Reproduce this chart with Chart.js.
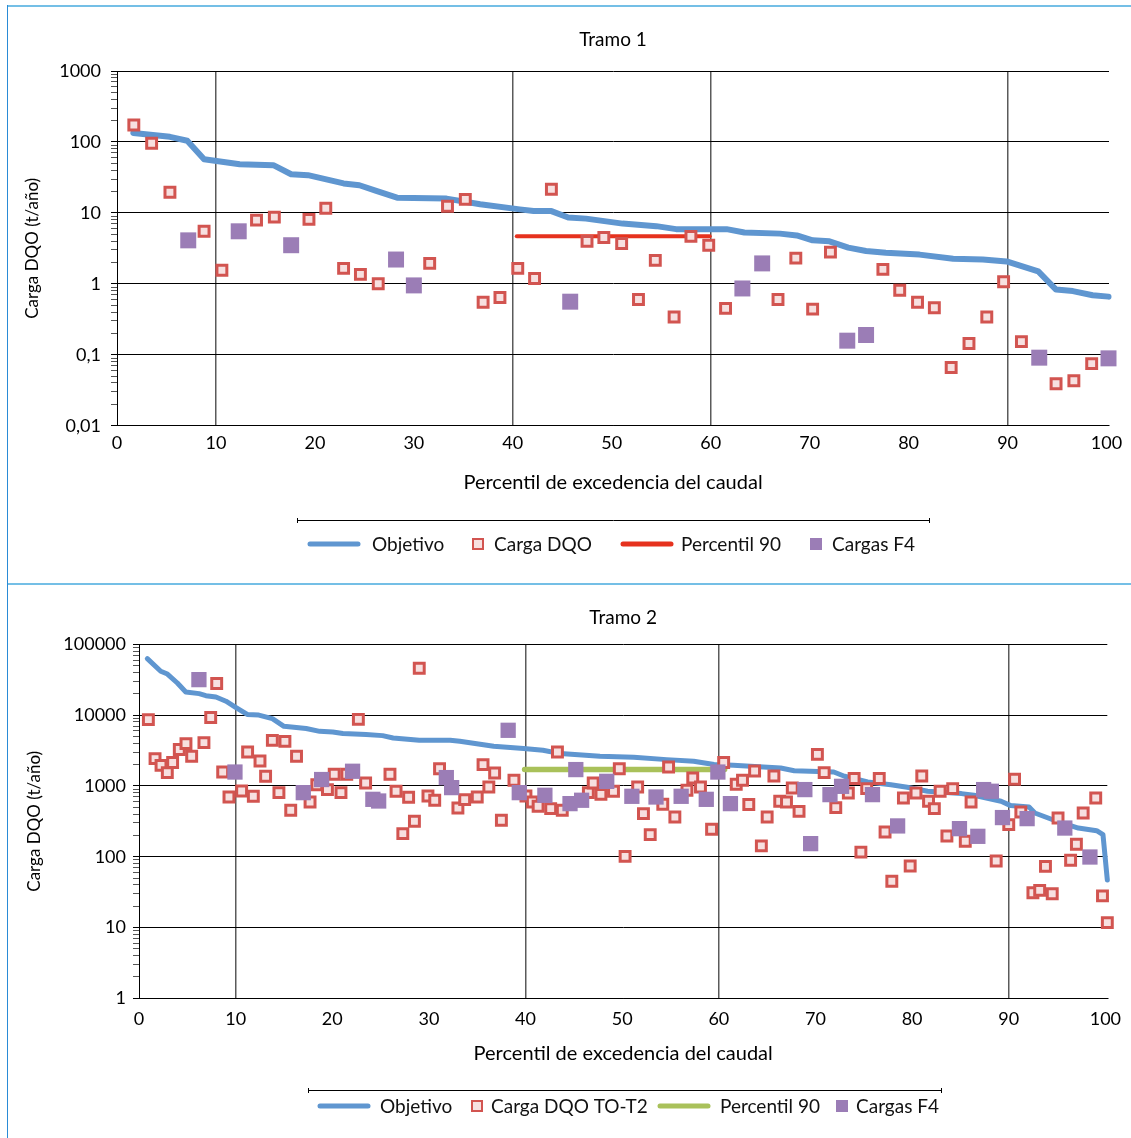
<!DOCTYPE html>
<html><head><meta charset="utf-8">
<script src="https://cdn.jsdelivr.net/npm/chart.js@4.4.1/dist/chart.umd.min.js"></script>
<style>
html,body{margin:0;padding:0;background:#fff;}
body{width:1131px;height:1138px;position:relative;overflow:hidden;}
canvas{position:absolute;left:0;}
#c1{top:0;width:1131px;height:584px;}
#c2{top:584px;width:1131px;height:554px;}
.fr{position:absolute;z-index:2;}
</style></head><body>
<canvas id="c1" width="1131" height="584"></canvas>
<canvas id="c2" width="1131" height="554"></canvas>
<div class="fr" style="left:7px;top:5px;width:1124px;height:2px;background:#74bfe6"></div>
<div class="fr" style="left:7px;top:583px;width:1124px;height:2px;background:#74bfe6"></div>
<div class="fr" style="left:7px;top:5px;width:1px;height:1133px;background:#2a8bd6"></div>
<script>
// ---------- Tramo 1 data ----------
const xTicks = [0,10,20,30,40,50,60,70,80,90,100];
const vGridAt = [10,40,60,90];
const yTickVals1 = [0.01,0.1,1,10,100,1000];
const yTickLabels1 = ['0,01','0,1','1','10','100','1000'];
const obj1X = [1.65,5.35,7.1,8.8,12.4,15.8,17.6,19.3,22.9,24.5,26.2,28.3,33.3,36.7,40.7,42.1,43.9,45.6,47.4,51.1,54.5,56.5,61.6,63.4,67,68.7,70.3,72,73.9,75.7,77.7,81.1,84.5,87.5,89.9,91.5,93.1,94.9,96.6,98.6,100.2];
const obj1Y = [134,118,104,57,48.5,47,35,34,26,24.5,20.4,16.4,15.9,13.2,11.2,10.6,10.6,8.6,8.3,7.06,6.5,5.9,5.9,5.3,5.1,4.8,4.1,3.97,3.24,2.9,2.75,2.58,2.26,2.21,2.07,1.76,1.5,0.83,0.79,0.69,0.66];
const dqo1X = [1.7,3.5,5.35,8.8,10.6,14.1,15.9,19.4,21.1,22.9,24.6,26.4,31.6,33.4,35.2,37,38.7,40.5,42.2,43.9,47.5,49.2,51,52.7,54.4,56.3,58,59.8,61.5,66.8,68.6,70.3,72.1,77.4,79.1,80.9,82.6,84.3,86.1,87.9,89.6,91.4,94.9,96.7,98.5];
const dqo1Y = [173,96,19.5,5.5,1.55,7.9,8.7,8.1,11.6,1.65,1.36,1.0,1.94,12.4,15.5,0.55,0.64,1.65,1.19,21.5,3.97,4.5,3.7,0.6,2.14,0.34,4.67,3.5,0.45,0.6,2.3,0.44,2.8,1.6,0.81,0.55,0.46,0.066,0.144,0.34,1.07,0.153,0.039,0.043,0.075];
const p90_1X = [40.4,59.9];
const p90_1Y = [4.7,4.7];
const f4_1X = [7.2,12.3,17.6,28.2,30,45.8,63.2,65.2,73.8,75.7,93.2,100.2];
const f4_1Y = [4.1,5.5,3.5,2.2,0.95,0.56,0.86,1.94,0.158,0.19,0.091,0.089];
const legend1Labels = ['Objetivo','Carga DQO','Percentil 90','Cargas F4'];

// ---------- Tramo 2 data ----------
const yTickVals2 = [1,10,100,1000,10000,100000];
const yTickLabels2 = ['1','10','100','1000','10000','100000'];
const obj2X = [0.86,2.25,2.94,3.97,4.84,6.22,6.92,7.96,9.0,10.0,11.2,12.4,13.8,15.0,17.3,18.7,20.05,21.1,23.5,25.2,26.3,29.0,32.2,33.2,36.7,39.8,41.8,43.6,47.7,51.2,54.6,57.4,59.5,61.5,66.4,67.8,71.9,73.0,75.4,77.8,79.5,81.6,85.1,86.4,89.2,90.2,92.1,92.7,94.7,97.2,99.1,99.75,100.2];
const obj2Y = [62800,41600,38000,28400,21200,20100,18800,18000,15700,12900,10200,10000,8900,6950,6460,5900,5760,5480,5300,5130,4750,4400,4400,4270,3630,3370,3190,2860,2620,2540,2350,2230,2000,1950,1790,1640,1570,1370,1136,1040,955,839,778,737,606,527,503,414,327,254,233,205,47];
const dqo2X = [0.97,1.66,2.28,2.93,3.48,4.17,4.86,5.45,6.72,7.42,8.04,8.66,9.31,10.62,11.24,11.83,12.52,13.1,13.8,14.48,15.1,15.7,16.3,17.7,18.4,19.5,20.2,20.9,21.5,22.7,23.45,25.97,26.6,27.3,27.9,28.5,29.0,
  29.9,30.6,31.1,33.0,33.7,35.0,35.6,36.2,36.8,37.5,38.8,40.04,40.7,41.3,42.6,43.3,43.8,46.5,47.0,47.8,49.1,49.7,50.3,51.6,52.2,52.9,54.2,54.8,55.45,56.7,57.3,58.1,59.25,60.5,
  61.8,62.45,63.1,63.7,64.4,65.0,65.7,66.3,67.0,67.6,68.3,70.2,70.9,72.1,73.4,74.0,74.7,75.3,76.6,77.2,77.9,79.1,79.8,80.4,81.0,81.7,82.3,82.9,83.6,84.2,85.5,86.1,88.7,90.0,90.6,91.25,92.5,93.2,93.8,94.5,95.1,96.4,97.0,97.7,99.0,99.7,100.2];
const dqo2Y = [8630,2430,1950,1540,2140,3260,3960,2620,4080,9230,27900,1570,697,847,3010,713,2250,1370,4400,803,4260,452,2620,593,1040,885,1460,803,1460,8710,1100,1460,840,212,690,316,45800,
  719,627,1750,488,640,697,2000,966,1520,327,1200,719,593,515,478,3010,452,803,1100,758,840,1750,101,966,406,205,550,1850,364,868,1290,966,244,2140,
  1055,1200,545,1620,142,364,1380,606,593,933,437,2790,1540,494,795,1270,116,916,1270,223,45,675,74,795,1380,606,478,840,196,916,165,593,87,284,1240,428,31,33.5,73,30,352,89,150,414,675,28,11.7];
const p90_2X = [39.9,60.6];
const p90_2Y = [1710,1710];
const f4_2X = [6.2,9.93,17.0,18.9,22.1,24.2,24.8,31.8,32.35,38.2,39.35,42.0,44.6,45.2,45.8,48.4,51.0,53.5,56.1,58.7,59.9,61.2,68.9,69.5,71.5,72.7,75.9,78.5,84.9,86.8,87.4,88.2,89.35,91.9,95.8,98.4];
const f4_2Y = [31700,1570,803,1230,1610,646,612,1310,946,6100,803,737,562,1700,627,1160,713,697,713,646,1570,562,887,153,753,986,753,272,249,194,887,840,357,345,254,99];
const legend2Labels = ['Objetivo','Carga DQO TO-T2','Percentil 90','Cargas F4'];

// ---------- styles ----------
const FONT = 'Lato';
const C_BLUE = '#5f96d0', C_RED = '#d25450', C_PINK = '#f7e0e0', C_PURPLE = '#9b7db6', C_P90a = '#e6321e', C_P90b = '#a9c15a';
Chart.defaults.color = '#000';
Chart.defaults.font.family = FONT;

const pts = (xs, ys) => xs.map((x, i) => ({x: x, y: ys[i]}));
const isPow = v => Math.abs(Math.log10(v) - Math.round(Math.log10(v))) < 1e-9;
function logTicks(min, max) {
  const out = [];
  for (let e = Math.round(Math.log10(min)); e < Math.round(Math.log10(max)); e++)
    for (let k = 1; k < 10; k++) out.push(Number((k * Math.pow(10, e)).toPrecision(8)));
  out.push(max);
  return out;
}

const sepLegend = {
  id: 'sepLegend',
  afterDraw(chart, args, o) {
    const ctx = chart.ctx;
    ctx.save();
    ctx.strokeStyle = '#000'; ctx.lineWidth = 1;
    ctx.beginPath();
    ctx.moveTo(o.x0, o.ly + 0.5); ctx.lineTo(o.x1, o.ly + 0.5);
    ctx.moveTo(o.x0 + 0.5, o.ly - 2); ctx.lineTo(o.x0 + 0.5, o.ly + 3);
    ctx.moveTo(o.x1 - 0.5, o.ly - 2); ctx.lineTo(o.x1 - 0.5, o.ly + 3);
    ctx.stroke();
    ctx.font = o.fontSize + 'px ' + FONT;
    ctx.textBaseline = 'middle';
    ctx.textAlign = 'left';
    const y = o.iy;
    for (let i = 0; i < o.kinds.length; i++) {
      const k = o.kinds[i], sx = o.sx[i];
      if (k === 'line') {
        ctx.strokeStyle = o.colors[i]; ctx.lineWidth = 5; ctx.lineCap = 'round';
        ctx.beginPath(); ctx.moveTo(sx + 2, y); ctx.lineTo(sx + 50, y); ctx.stroke();
      } else if (k === 'hollow') {
        ctx.fillStyle = C_PINK; ctx.fillRect(sx, y - 6, 12, 12);
        ctx.strokeStyle = C_RED; ctx.lineWidth = 2; ctx.strokeRect(sx + 1, y - 5, 10, 10);
      } else {
        ctx.fillStyle = o.colors[i]; ctx.fillRect(sx, y - 6, 12, 12);
      }
      ctx.fillStyle = '#111';
      ctx.fillText(o.labels[i], o.tx[i], y + 1);
    }
    ctx.restore();
  }
};

function makeChart(id, cfg) {
  const ds = [
    {label: cfg.labels[0], data: pts(cfg.objX, cfg.objY), showLine: true, borderColor: C_BLUE, borderWidth: cfg.lw,
     pointRadius: 0, borderCapStyle: 'round', borderJoinStyle: 'round', tension: 0, order: 4, clip: false},
    {label: cfg.labels[2], data: pts(cfg.p90X, cfg.p90Y), showLine: true, borderColor: cfg.p90c, borderWidth: cfg.p90w,
     pointRadius: 0, borderCapStyle: 'round', order: 3, clip: false},
    {label: cfg.labels[1], data: pts(cfg.dqoX, cfg.dqoY), showLine: false, pointStyle: 'rect', pointRadius: 7, pointHoverRadius: 7,
     pointBorderWidth: 3, pointBorderColor: C_RED, pointBackgroundColor: C_PINK, order: 2, clip: false},
    {label: cfg.labels[3], data: pts(cfg.f4X, cfg.f4Y), showLine: false, pointStyle: 'rect', pointRadius: cfg.f4r, pointHoverRadius: cfg.f4r,
     pointBorderWidth: 0, pointBackgroundColor: C_PURPLE, order: 1, clip: false}
  ];
  return new Chart(document.getElementById(id), {
    type: 'scatter',
    data: {datasets: ds},
    plugins: [sepLegend],
    options: {
      responsive: false, animation: false, events: [],
      layout: {padding: {left: 0, right: cfg.padR, top: 0, bottom: cfg.padB}},
      plugins: {
        legend: {display: false}, tooltip: {enabled: false},
        title: {display: true, text: cfg.title, fullSize: false, color: '#000',
                font: {family: FONT, size: 19, weight: 'normal'}, padding: cfg.titlePad},
        sepLegend: cfg.legend
      },
      scales: {
        x: {
          type: 'linear', min: 0, max: cfg.xMax,
          afterBuildTicks: s => { s.ticks = xTicks.map(v => ({value: v})); },
          afterFit: s => { s.height = 80; },
          ticks: {autoSkip: false, maxRotation: 0, padding: cfg.xLabPad, font: {family: FONT, size: 18}, callback: v => String(v)},
          grid: {color: c => (c.tick && vGridAt.includes(c.tick.value)) ? '#5a5a5a' : 'rgba(0,0,0,0)', lineWidth: 1.5, drawTicks: false},
          border: {display: true, color: '#000', width: 1},
          title: {display: true, text: 'Percentil de excedencia del caudal', color: '#000',
                  font: {family: FONT, size: 20}, padding: {top: 0, bottom: cfg.xTitlePad}}
        },
        y: {
          type: 'logarithmic', min: cfg.yVals[0], max: cfg.yVals[cfg.yVals.length - 1],
          afterBuildTicks: s => { s.ticks = logTicks(cfg.yVals[0], cfg.yVals[cfg.yVals.length - 1]).map(v => ({value: v})); },
          afterFit: s => { s.width = cfg.yW; },
          ticks: {autoSkip: false, padding: cfg.yLabPad, font: {family: FONT, size: 18},
                  callback: v => { const i = cfg.yVals.findIndex(t => Math.abs(t - v) / t < 1e-6); return i >= 0 ? cfg.yLabels[i] : ''; }},
          grid: {color: c => (c.tick && isPow(c.tick.value)) ? '#000' : 'rgba(0,0,0,0)', lineWidth: 1,
                 drawTicks: true, tickLength: 6, tickColor: c => (c.tick && isPow(c.tick.value)) ? '#000' : '#555', tickWidth: 1},
          border: {display: true, color: '#000', width: 1},
          title: {display: true, text: 'Carga DQO (t/año)', color: '#000',
                  font: {family: FONT, size: 17}, padding: {top: cfg.yTitlePad, bottom: 0}}
        }
      }
    }
  });
}

function draw() {
  makeChart('c1', {
    title: 'Tramo 1', labels: legend1Labels,
    objX: obj1X, objY: obj1Y, dqoX: dqo1X, dqoY: dqo1Y, p90X: p90_1X, p90Y: p90_1Y, f4X: f4_1X, f4Y: f4_1Y,
    lw: 6, p90c: C_P90a, p90w: 4, f4r: 11.3,
    xMax: 100.25, yVals: yTickVals1, yLabels: yTickLabels1,
    padR: 22, padB: 78.3, yW: 117, titlePad: {top: 28.6, bottom: 19.6},
    xLabPad: 6.5, xTitlePad: 10.7, yLabPad: 10, yTitlePad: 22.8,
    legend: {x0: 297, x1: 930, ly: 520, iy: 544, fontSize: 19,
             kinds: ['line','hollow','line','fill'], colors: [C_BLUE, C_RED, C_P90a, C_PURPLE],
             sx: [308, 472, 621, 810], tx: [372, 494, 681, 832], labels: legend1Labels}
  });
  makeChart('c2', {
    title: 'Tramo 2', labels: legend2Labels,
    objX: obj2X, objY: obj2Y, dqoX: dqo2X, dqoY: dqo2Y, p90X: p90_2X, p90Y: p90_2Y, f4X: f4_2X, f4Y: f4_2Y,
    lw: 5, p90c: C_P90b, p90w: 5.5, f4r: 10.8,
    xMax: 100.2, yVals: yTickVals2, yLabels: yTickLabels2,
    padR: 23.5, padB: 59.7, yW: 139, titlePad: {top: 22.6, bottom: 14.9},
    xLabPad: 9.9, xTitlePad: 12.3, yLabPad: 7, yTitlePad: 24.8,
    legend: {x0: 308, x1: 942, ly: 506, iy: 522, fontSize: 19,
             kinds: ['line','hollow','line','fill'], colors: [C_BLUE, C_RED, C_P90b, C_PURPLE],
             sx: [318, 471, 658, 836], tx: [380, 491, 720, 856], labels: legend2Labels}
  });
}
if (document.fonts && document.fonts.load) {
  Promise.all([document.fonts.load('18px Lato'), document.fonts.load('19px Lato'), document.fonts.load('20px Lato')]).then(draw, draw);
} else { draw(); }
</script>
</body></html>
